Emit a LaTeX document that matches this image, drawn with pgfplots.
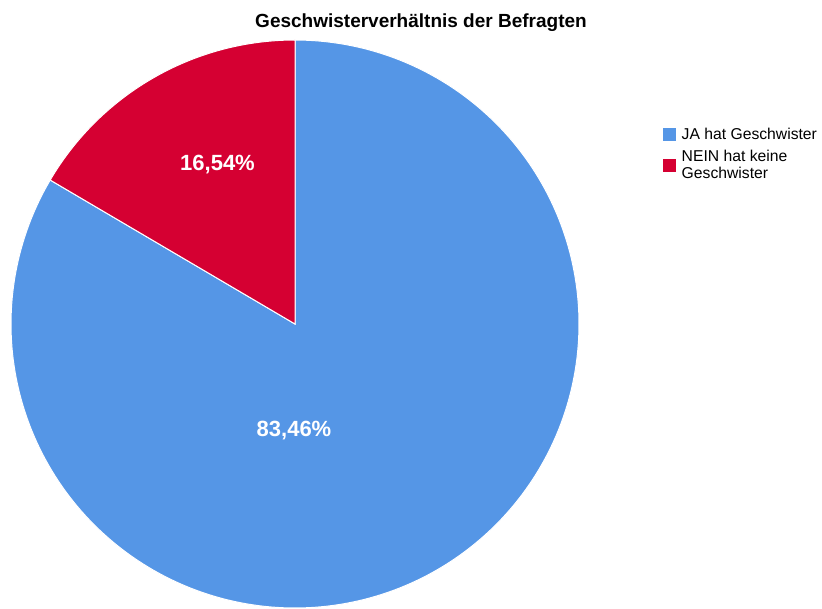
\documentclass[border=0pt]{standalone}
\usepackage{pgfplots}
\pgfplotsset{compat=1.18}
\usepackage{fontspec}
\setmainfont{Liberation Sans}
\definecolor{piblue}{RGB}{85,150,230}
\definecolor{pired}{RGB}{213,0,50}
\begin{document}
\begin{tikzpicture}
% shares in percent
\def\pJA{83.46}
\def\pNEIN{16.54}
\pgfmathsetmacro\aEnd{90+\pNEIN*3.6}
\begin{axis}[
  width=822pt, height=608pt, scale only axis,
  xmin=0, xmax=822, ymin=0, ymax=608,
  hide axis, clip=false,
  legend image code/.code={\fill[#1,draw=none] (0pt,-6.5pt) rectangle (13pt,6.5pt);},
  legend style={draw=none, fill=none, at={(axis cs:663,482)}, anchor=north west,
    inner xsep=0pt, inner ysep=0pt,
    font=\fontsize{15.7}{17}\selectfont,
    cells={anchor=west, align=left},
    row sep=5.5pt,
    /tikz/every odd column/.style={column sep=3.5pt}},
]
\addplot[fill=piblue, draw=white, line width=1pt, domain=\aEnd:450, samples=240, variable=\t]
  ({295+284*cos(t)}, {284+284*sin(t)}) -- (axis cs:295,284) -- cycle;
\addlegendentry{JA hat Geschwister}
\addplot[fill=pired, draw=white, line width=1pt, domain=90:\aEnd, samples=60, variable=\t]
  ({295+284*cos(t)}, {284+284*sin(t)}) -- (axis cs:295,284) -- cycle;
\addlegendentry{NEIN hat keine\\Geschwister}
\node[text=white, font=\fontsize{22}{26}\selectfont\bfseries] at (axis cs:217.5,443.5) {16,54\%};
\node[text=white, font=\fontsize{22}{26}\selectfont\bfseries] at (axis cs:294,177) {83,46\%};
\node[anchor=base, font=\fontsize{19}{23}\selectfont\bfseries] at (axis cs:421,580.7) {Geschwisterverhältnis der Befragten};
\end{axis}
\pgfresetboundingbox
\path[use as bounding box] (0,0) rectangle (822pt,608pt);
\end{tikzpicture}
\end{document}
